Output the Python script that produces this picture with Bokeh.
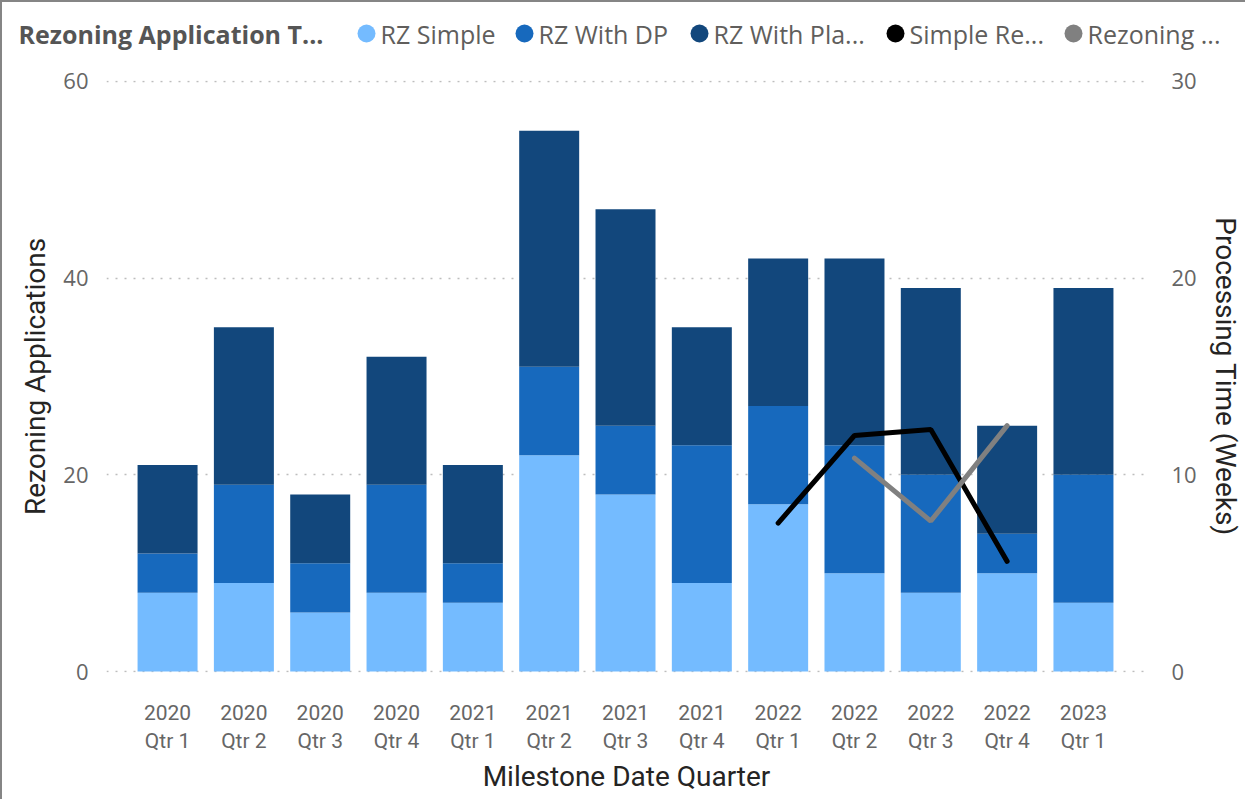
import numpy as np
from bokeh.plotting import figure
from bokeh.models import Range1d, LinearAxis, FixedTicker, ColumnDataSource
from bokeh.core.properties import value
from bokeh.embed import file_html
from bokeh.resources import INLINE

quarters = ["2020\nQtr 1", "2020\nQtr 2", "2020\nQtr 3", "2020\nQtr 4",
            "2021\nQtr 1", "2021\nQtr 2", "2021\nQtr 3", "2021\nQtr 4",
            "2022\nQtr 1", "2022\nQtr 2", "2022\nQtr 3", "2022\nQtr 4",
            "2023\nQtr 1"]
rz_simple = [8, 9, 6, 8, 7, 22, 18, 9, 17, 10, 8, 10, 7]
rz_with_dp = [4, 10, 5, 11, 4, 9, 7, 14, 10, 13, 12, 4, 13]
rz_with_plan = [9, 16, 7, 13, 10, 24, 22, 12, 15, 19, 19, 11, 19]
simple_rezoning_weeks = [None, None, None, None, None, None, None, None, 7.55, 12.0, 12.3, 5.6, None]
rezoning_weeks = [None, None, None, None, None, None, None, None, None, 10.85, 7.65, 12.5, None]

legend_title = "Rezoning Application T..."
legend_names = ["RZ Simple", "RZ With DP", "RZ With Pla...", "Simple Re...", "Rezoning ..."]

left_ticks = [0, 20, 40, 60]
right_ticks = [0, 10, 20, 30]

C_LIGHT = "#74BBFF"
C_MID = "#1769BD"
C_DARK = "#12477C"
C_BLACK = "#000000"
C_GRAY = "#808080"
legend_colors = [C_LIGHT, C_MID, C_DARK, C_BLACK, C_GRAY]

x = list(range(len(quarters)))
s1 = np.array(rz_simple, dtype=float)
s2 = np.array(rz_with_dp, dtype=float)
s3 = np.array(rz_with_plan, dtype=float)

W = 1245
LH = 58          # legend strip height
H = 741          # main chart height
ML, MR, MT, MB = 104, 101, 22, 127
XMIN, XMAX = -0.8, 12.826
BORDER = "2px solid #858585"

# ---------- legend strip ----------
lg = figure(width=W, height=LH, output_backend="svg", toolbar_location=None,
            x_range=Range1d(0, W), y_range=Range1d(LH, 0),
            min_border=0, min_border_left=0, min_border_right=0, min_border_top=0, min_border_bottom=0)
lg.axis.visible = False
lg.grid.visible = False
lg.outline_line_color = None
lg.border_fill_color = "white"
lg.background_fill_color = "white"
lg.styles = {"border-top": BORDER, "border-left": BORDER}

LY = 31
lg.text(x=[16], y=[LY], text=[legend_title], text_font=value("Open Sans"), text_font_style="bold",
        text_font_size="25px", text_color="#555555", text_baseline="middle", text_align="left")
dot_x = [364, 522, 697, 893, 1071]
txt_x = [378, 536, 711, 907, 1085]
lg.scatter(x=dot_x, y=[LY] * 5, size=18, marker="circle", fill_color=legend_colors, line_color=None)
lg.text(x=txt_x, y=[LY] * 5, text=legend_names, text_font=value("Open Sans"),
        text_font_size="25px", text_color="#605E5C", text_baseline="middle", text_align="left")

# ---------- main chart ----------
p = figure(width=W, height=H, output_backend="svg", toolbar_location=None,
           x_range=Range1d(XMIN, XMAX), y_range=Range1d(-0.1, 60.1),
           min_border_left=ML, min_border_right=MR, min_border_top=MT, min_border_bottom=MB)
p.outline_line_color = None
p.background_fill_color = "white"
p.border_fill_color = "white"
p.styles = {"border-left": BORDER}

src = ColumnDataSource(dict(x=x, b1=np.zeros(len(x)), t1=s1, b2=s1, t2=s1 + s2, b3=s1 + s2, t3=s1 + s2 + s3))
bw = 0.786
p.vbar(x="x", bottom="b1", top="t1", width=bw, source=src, fill_color=C_LIGHT, line_color=None)
p.vbar(x="x", bottom="b2", top="t2", width=bw, source=src, fill_color=C_MID, line_color=None)
p.vbar(x="x", bottom="b3", top="t3", width=bw, source=src, fill_color=C_DARK, line_color=None)

p.extra_y_ranges = {"time": Range1d(-0.05, 30.05)}
def clean(v):
    return [np.nan if a is None else a for a in v]
p.line(x, clean(simple_rezoning_weeks), y_range_name="time", line_color=C_BLACK, line_width=5, line_cap="round")
p.line(x, clean(rezoning_weeks), y_range_name="time", line_color=C_GRAY, line_width=5, line_cap="round")

TICK_COLOR = "#666666"
TITLE_COLOR = "#252423"

xa = p.xaxis[0]
xa.ticker = FixedTicker(ticks=x)
xa.major_label_overrides = {i: q for i, q in enumerate(quarters)}
xa.axis_label = "Milestone Date Quarter"

ya = p.yaxis[0]
ya.ticker = FixedTicker(ticks=left_ticks)
ya.axis_label = "Rezoning Applications"

ra = LinearAxis(y_range_name="time", ticker=FixedTicker(ticks=right_ticks), axis_label="Processing Time (Weeks)")
p.add_layout(ra, "right")

for ax in [xa, ya, ra]:
    ax.axis_line_color = None
    ax.major_tick_line_color = None
    ax.minor_tick_line_color = None
    ax.major_label_text_color = TICK_COLOR
    ax.axis_label_text_color = TITLE_COLOR
    ax.axis_label_text_font_size = "28px"
    ax.axis_label_text_font_style = "normal"
    ax.axis_label_text_font = "Roboto"
xa.major_label_text_font = "Roboto"
xa.major_label_text_font_size = "21px"
ya.major_label_text_font = "Open Sans"
ra.major_label_text_font = "Open Sans"
ya.major_label_text_font_size = "22px"
ra.major_label_text_font_size = "22px"
xa.major_label_standoff = 22
ya.major_label_standoff = 12
ra.major_label_standoff = 19
xa.axis_label_standoff = 4
ya.axis_label_standoff = 8
ra.axis_label_standoff = 9

p.xgrid.grid_line_color = None
p.ygrid.ticker = FixedTicker(ticks=left_ticks)
p.ygrid.grid_line_color = "#BDBDBD"
p.ygrid.grid_line_dash = "2 7"
p.ygrid.grid_line_width = 1.5

open("out.html", "w").write(file_html([lg, p], INLINE))
